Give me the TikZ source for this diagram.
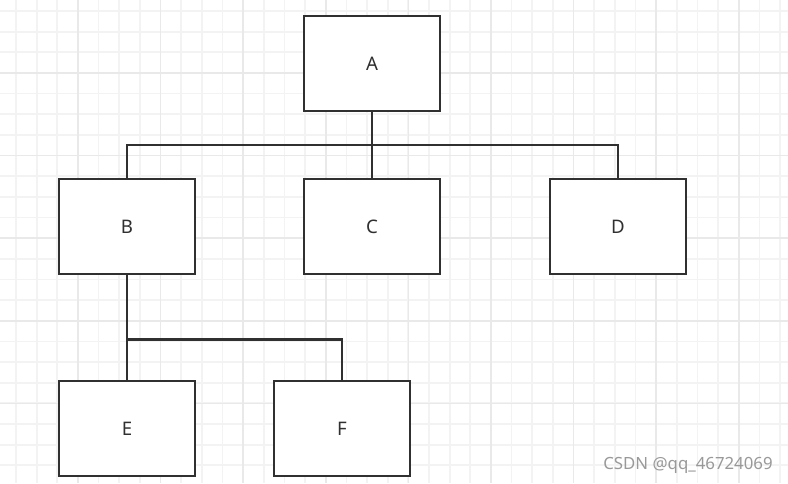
\documentclass[tikz,border=0pt]{standalone}
\usepackage{fontspec}
\setmainfont{Noto Sans}
\usepackage{tikz}
\usetikzlibrary{calc}

\definecolor{inkgray}{HTML}{303030}
\definecolor{gridminor}{HTML}{F3F3F3}
\definecolor{gridmajor}{HTML}{E9E9E9}

\begin{document}
\begin{tikzpicture}[x=0.75pt,y=-0.75pt,
  box/.style={draw=inkgray,line width=2pt,fill=white,text=inkgray,
    minimum width=102pt,minimum height=71.25pt,inner sep=0pt,font=\fontsize{14}{16}\selectfont},
  link/.style={draw=inkgray,line width=2pt},
  minorline/.style={draw=gridminor,line width=1.3pt},
  majorline/.style={draw=gridmajor,line width=1.3pt}]
 \useasboundingbox[fill=white] (0,0) rectangle (788,483);
 % background grid
 \foreach \i in {0,...,37} {
  \draw[minorline] ({16+20.65*\i},0) -- ++(0,483);
 }
 \foreach \i in {0,...,23} {
  \draw[minorline] (0,{11+20.65*\i}) -- ++(788,0);
 }
 \foreach \i in {0,...,8} {
  \draw[majorline] ({78+82.6*\i},0) -- ++(0,483);
 }
 \foreach \i in {0,...,4} {
  \draw[majorline] (0,{73+82.6*\i}) -- ++(788,0);
 }
 % boxes
 \node[box] (A) at (372,63.5) {A};
 \node[box] (B) at (127,226.5) {B};
 \node[box] (C) at (372,226.5) {C};
 \node[box] (D) at (618,226.5) {D};
 \node[box] (E) at (127,428.5) {E};
 \node[box] (F) at (342,428.5) {F};
 % links
 \coordinate (busA) at ($(A.south)!0.5!(C.north)$);
 \coordinate (busB) at ($(B.south)+(0,64)$);
 \draw[link] (A.south) -- (C.north);
 \draw[link] (B.north) |- (busA) -| (D.north);
 \draw[link] (B.south) -- (E.north);
 \draw[link] (busB) -| (F.north);
 \node[text=gray!80,font=\fontsize{12.6}{14}\selectfont] (mark) at (688,465) {CSDN @qq\_46724069};
\end{tikzpicture}
\end{document}
